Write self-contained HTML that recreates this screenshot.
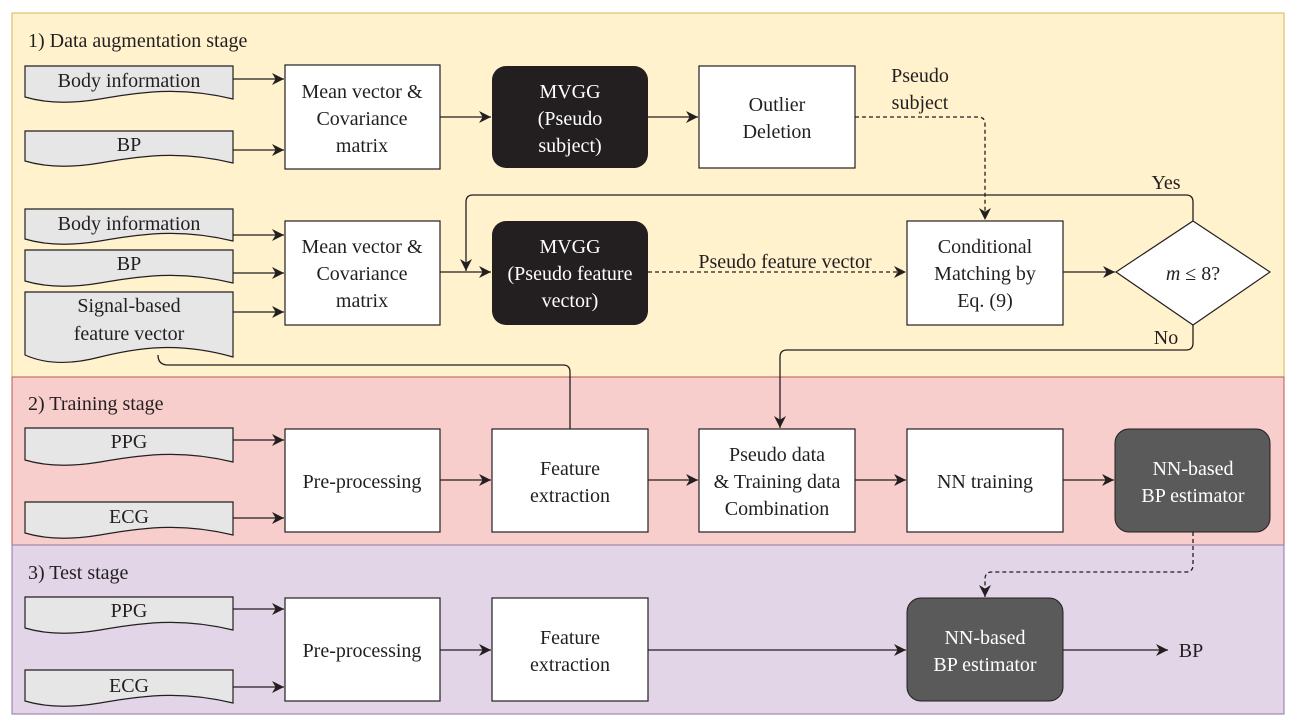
<!DOCTYPE html>
<html><head><meta charset="utf-8"><style>
body{margin:0;background:#fff}
svg{display:block}
svg text{font-family:"Liberation Serif","Times New Roman",Times,"DejaVu Serif",serif;font-size:20px;fill:#231f20}
</style></head><body>
<svg width="1298" height="725" viewBox="0 0 1298 725" xmlns="http://www.w3.org/2000/svg" font-family="Liberation Serif, serif">
<defs>
<marker id="a" viewBox="0 0 10 10" refX="10" refY="5" markerWidth="13" markerHeight="12" orient="auto" markerUnits="userSpaceOnUse"><path d="M0,0 L10,5 L0,10 L3,5 Z" fill="#231f20"/></marker>
</defs>
<rect x="12" y="13" width="1272" height="364" fill="#fff2cc" stroke="#d6b656"/>
<rect x="12" y="377" width="1272" height="168" fill="#f8cecc" stroke="#b85450"/>
<rect x="12" y="545" width="1272" height="169" fill="#e1d5e7" stroke="#9673a6"/>
<text x="28" y="47">1) Data augmentation stage</text>
<text x="28" y="410">2) Training stage</text>
<text x="28" y="579">3) Test stage</text>

<g fill="#e6e6e6" stroke="#231f20" stroke-width="1.2">
<path d="M25,66 H233 V99 C180,86 140,92 100,99 C70,104 45,103 25,97 Z"/>
<path d="M25,131 H233 V163 C180,150 140,156 100,163 C70,168 45,167 25,161 Z"/>
<path d="M25,209 H233 V241 C180,228 140,234 100,241 C70,246 45,245 25,239 Z"/>
<path d="M25,250 H233 V283 C180,270 140,276 100,283 C70,288 45,287 25,281 Z"/>
<path d="M25,292 H233 V357 C180,342 140,347 100,357 C70,365 45,364 25,355 Z"/>
<path d="M25,428 H233 V462 C180,449 140,455 100,462 C70,467 45,466 25,460 Z"/>
<path d="M25,502 H233 V535 C180,522 140,528 100,535 C70,540 45,539 25,533 Z"/>
<path d="M25,597 H233 V630 C180,617 140,623 100,630 C70,635 45,634 25,628 Z"/>
<path d="M25,670 H233 V703 C180,690 140,696 100,703 C70,708 45,707 25,701 Z"/>
</g>
<g text-anchor="middle">
<text x="129" y="87">Body information</text>
<text x="129" y="151">BP</text>
<text x="129" y="230">Body information</text>
<text x="129" y="270">BP</text>
<text x="129" y="312">Signal-based</text>
<text x="129" y="340">feature vector</text>
<text x="129" y="448">PPG</text>
<text x="129" y="523">ECG</text>
<text x="129" y="617">PPG</text>
<text x="129" y="692">ECG</text>
</g>

<g fill="#fff" stroke="#231f20" stroke-width="1.2">
<rect x="285" y="65" width="155" height="104"/>
<rect x="285" y="221" width="155" height="104"/>
<rect x="699" y="66" width="156" height="102"/>
<rect x="907" y="221" width="156" height="104"/>
<path d="M1193,221 L1270,272 L1193,325 L1116,272 Z"/>
<rect x="285" y="429" width="155" height="103"/>
<rect x="492" y="429" width="156" height="103"/>
<rect x="699" y="429" width="156" height="103"/>
<rect x="907" y="429" width="156" height="103"/>
<rect x="285" y="598" width="155" height="103"/>
<rect x="492" y="598" width="156" height="103"/>
</g>
<rect x="492" y="66" width="156" height="102" rx="14" fill="#231f20"/>
<rect x="492" y="221" width="156" height="104" rx="14" fill="#231f20"/>
<rect x="1115" y="429" width="155" height="103" rx="14" fill="#5a5a5a" stroke="#231f20"/>
<rect x="907" y="598" width="156" height="103" rx="14" fill="#5a5a5a" stroke="#231f20"/>

<g text-anchor="middle">
<text x="362" y="98">Mean vector &amp;</text><text x="362" y="125">Covariance</text><text x="362" y="152">matrix</text>
<text x="362" y="253">Mean vector &amp;</text><text x="362" y="280">Covariance</text><text x="362" y="307">matrix</text>
<text x="570" y="98" style="fill:#fff">MVGG</text><text x="570" y="125" style="fill:#fff">(Pseudo</text><text x="570" y="152" style="fill:#fff">subject)</text>
<text x="570" y="253" style="fill:#fff">MVGG</text><text x="570" y="280" style="fill:#fff">(Pseudo feature</text><text x="570" y="307" style="fill:#fff">vector)</text>
<text x="777" y="111">Outlier</text><text x="777" y="138">Deletion</text>
<text x="985" y="253">Conditional</text><text x="985" y="280">Matching by</text><text x="985" y="307">Eq. (9)</text>
<text x="1193" y="280"><tspan font-style="italic">m</tspan> ≤ 8?</text>
<text x="920" y="82">Pseudo</text><text x="920" y="109">subject</text>
<text x="785" y="268">Pseudo feature vector</text>
<text x="1166" y="189">Yes</text>
<text x="1166" y="344">No</text>
<text x="362" y="488">Pre-processing</text>
<text x="570" y="475">Feature</text><text x="570" y="502">extraction</text>
<text x="777" y="461">Pseudo data</text><text x="777" y="488">&amp; Training data</text><text x="777" y="515">Combination</text>
<text x="985" y="488">NN training</text>
<text x="1193" y="475" style="fill:#fff">NN-based</text><text x="1193" y="502" style="fill:#fff">BP estimator</text>
<text x="362" y="657">Pre-processing</text>
<text x="570" y="644">Feature</text><text x="570" y="671">extraction</text>
<text x="985" y="644" style="fill:#fff">NN-based</text><text x="985" y="671" style="fill:#fff">BP estimator</text>
<text x="1191" y="657">BP</text>
</g>

<g stroke="#231f20" stroke-width="1.3" fill="none" marker-end="url(#a)">
<path d="M233,79 H284"/><path d="M233,150 H284"/>
<path d="M440,117 H491"/><path d="M648,117 H698"/>
<path d="M233,235 H284"/><path d="M233,273 H284"/><path d="M233,312 H284"/>
<path d="M440,272 H491"/>
<path d="M648,272 H906" stroke-dasharray="4,3"/>
<path d="M855,117 H978 Q985,117 985,124 V220" stroke-dasharray="4,3"/>
<path d="M1063,272 H1115"/>
<path d="M1193,221 V202 Q1193,195 1186,195 H473 Q466,195 466,202 V271"/>
<path d="M1193,325 V343 Q1193,350 1186,350 H787 Q780,350 780,357 V428"/>
<path d="M233,440 H284"/><path d="M233,518 H284"/>
<path d="M440,480 H491"/><path d="M648,480 H698"/><path d="M855,480 H906"/><path d="M1063,480 H1114"/>
<path d="M1193,532 V565 Q1193,572 1186,572 H992 Q985,572 985,579 V597" stroke-dasharray="4,3"/>
<path d="M233,609 H284"/><path d="M233,687 H284"/>
<path d="M440,650 H491"/><path d="M648,650 H906"/><path d="M1063,650 H1168"/>
</g>
<path d="M570,429 V372 Q570,365 563,365 H168 Q158,365 158,355" stroke="#231f20" stroke-width="1.3" fill="none"/>
</svg>
</body></html>
